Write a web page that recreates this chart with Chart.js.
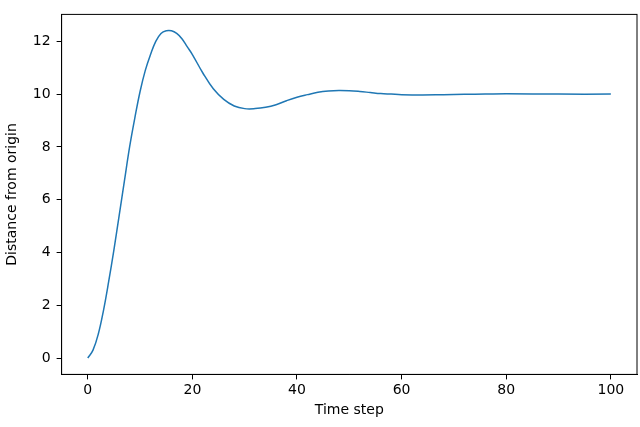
<!DOCTYPE html>
<html>
<head>
<script src="https://cdn.jsdelivr.net/npm/chart.js@4"></script>
<style>body{margin:0;background:#fff}#wrap{width:640px;height:427px}</style>
</head>
<body>
<div id="wrap"><canvas id="c"></canvas></div>
<script>
const timeSteps = [0,1,2,3,4,5,6,7,8,9,10,11,12,13,14,15,16,17,18,19,20,22,24,26,28,30,32,34,36,38,40,42,44,46,48,50,52,54,56,58,60,64,68,72,76,80,90,100];
const distance = [0,0.3,0.9,1.8,2.9,4.1,5.4,6.7,8.0,9.1,10.1,10.9,11.5,12.0,12.3,12.4,12.4,12.3,12.1,11.8,11.5,10.8,10.2,9.8,9.55,9.45,9.45,9.5,9.6,9.75,9.88,9.98,10.07,10.12,10.14,10.13,10.1,10.06,10.02,10.0,9.98,9.97,9.98,9.99,10.0,10.01,10.0,10.0];
const xTicks = [0,20,40,60,80,100];
const yTicks = [0,2,4,6,8,10,12];

Chart.defaults.font.family = 'DejaVu Sans';
Chart.defaults.font.size = 14;
Chart.defaults.color = '#000';

const box = {
  id: 'box',
  afterDraw(chart) {
    const a = chart.chartArea, ctx = chart.ctx;
    ctx.save();
    ctx.strokeStyle = '#000';
    ctx.lineWidth = 1;
    ctx.strokeRect(a.left, a.top, a.right - a.left, a.bottom - a.top);
    ctx.restore();
  }
};

new Chart(document.getElementById('c'), {
  type: 'line',
  data: {
    datasets: [{
      data: timeSteps.map((t, i) => ({ x: t, y: distance[i] })),
      borderColor: '#1f77b4',
      borderWidth: 1.5,
      pointRadius: 0,
      tension: 0.4,
      fill: false
    }]
  },
  options: {
    responsive: true,
    maintainAspectRatio: false,
    animation: false,
    layout: { padding: { top: 2, right: 3, left: 0, bottom: 4 } },
    plugins: { legend: { display: false }, tooltip: { enabled: false } },
    scales: {
      x: {
        type: 'linear', min: -5, max: 105,
        afterBuildTicks: s => { s.ticks = xTicks.map(v => ({ value: v })); },
        grid: { drawOnChartArea: false, tickLength: 5, color: '#000' },
        border: { color: '#000' },
        ticks: { padding: 3 },
        title: { display: true, text: 'Time step', padding: { top: 0 } }
      },
      y: {
        min: -0.62, max: 13.02,
        afterBuildTicks: s => { s.ticks = yTicks.map(v => ({ value: v })); },
        grid: { drawOnChartArea: false, tickLength: 5, color: '#000' },
        border: { color: '#000' },
        ticks: { padding: 6 },
        title: { display: true, text: 'Distance from origin', padding: { bottom: 6 } }
      }
    }
  },
  plugins: [box]
});
</script>
</body>
</html>
